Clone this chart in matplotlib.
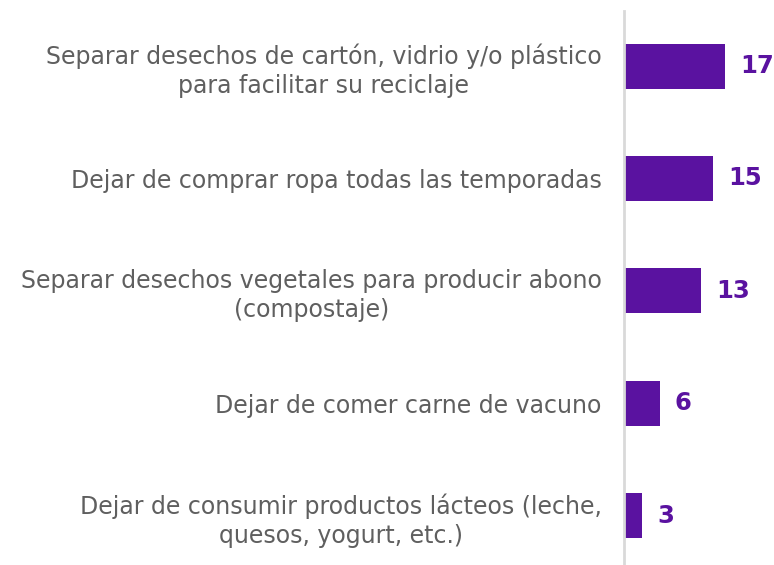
import matplotlib
matplotlib.use("Agg")
import matplotlib.pyplot as plt

categories = [
    "Separar desechos de cartón, vidrio y/o plástico\npara facilitar su reciclaje",
    "Dejar de comprar ropa todas las temporadas",
    "Separar desechos vegetales para producir abono\n(compostaje)",
    "Dejar de comer carne de vacuno",
    "Dejar de consumir productos lácteos (leche,\nquesos, yogurt, etc.)",
]
values = [17, 15, 13, 6, 3]

purple = "#5a12a0"
W, H = 774, 565
fig = plt.figure(figsize=(W / 100, H / 100), dpi=100)
ax = fig.add_axes([624 / W, 0, 1 - 624 / W, 1 - 11 / H])

y = list(range(len(values)))
ax.barh(y, values, height=0.4, color=purple, zorder=2)
ax.set_ylim(4.44, -0.49)
ax.set_xlim(0, 25.2)

for yi, v in zip(y, values):
    ax.annotate(str(v), (v, yi), xytext=(11, 0), textcoords="offset points",
                ha="left", va="center", fontsize=17.5, fontweight="heavy",
                color=purple)

ax.set_yticks(y)
ax.set_yticklabels(categories, fontsize=17, color="#5f5f5f",
                   multialignment="center", linespacing=1.25)
ax.tick_params(axis="y", length=0, pad=16)
ax.set_xticks([])
for s in ["top", "right", "bottom"]:
    ax.spines[s].set_visible(False)
ax.spines["left"].set_color("#d9d9d9")
ax.spines["left"].set_linewidth(2)

fig.savefig("out.png", dpi=100)
